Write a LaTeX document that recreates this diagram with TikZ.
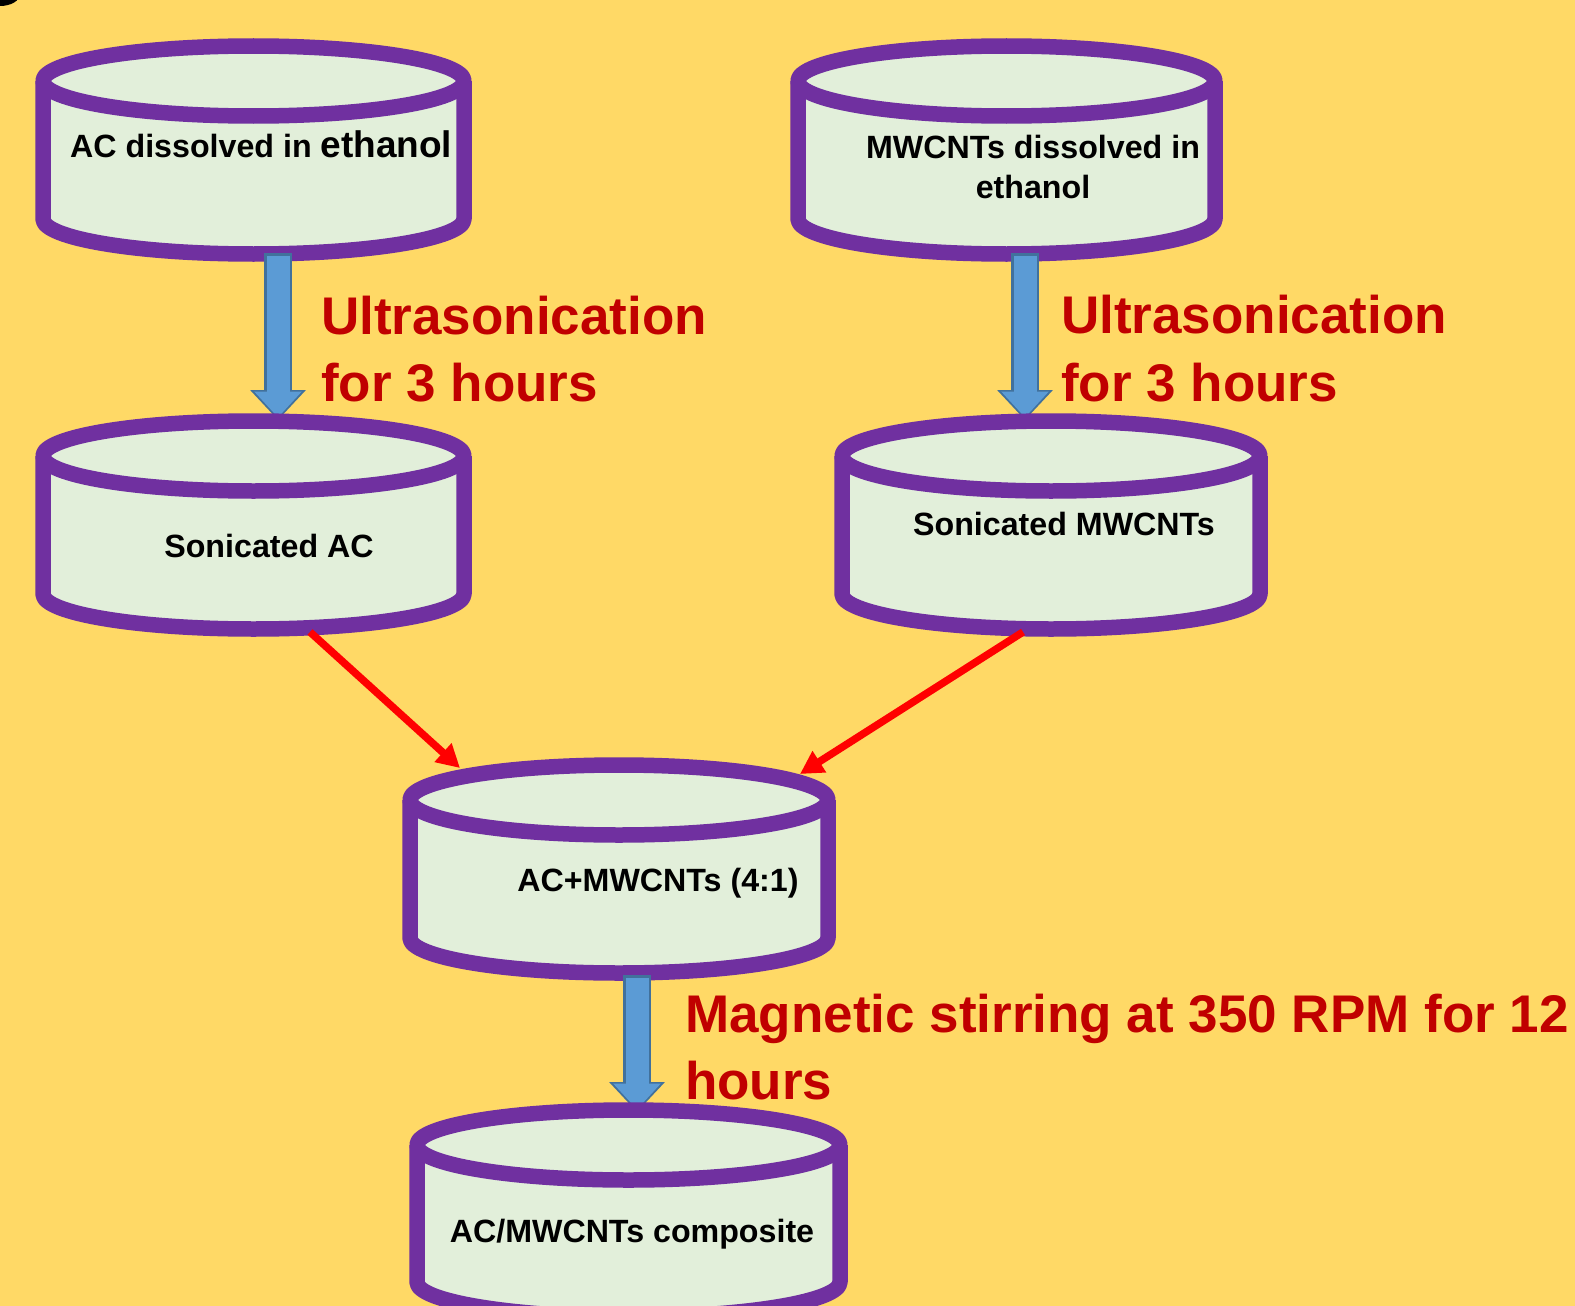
\documentclass[tikz,border=0pt]{standalone}
\usepackage{fontspec}
\setmainfont{Liberation Sans}
\usetikzlibrary{arrows.meta}
\definecolor{bgyellow}{HTML}{FFD966}
\definecolor{cylpurple}{HTML}{7030A0}
\definecolor{cylgreen}{HTML}{E2EFDA}
\definecolor{arrowblue}{HTML}{5B9BD5}
\definecolor{arrowedge}{HTML}{41719C}
\definecolor{labelred}{HTML}{C00000}
\definecolor{linkred}{HTML}{FF0000}
% cylinder: #1 centre x, #2 x radius, #3 top ellipse centre y, #4 bottom ellipse centre y
\newcommand\drawcyl[4]{%
  \fill[cylgreen] (#1-#2,#3) rectangle (#1+#2,#4);
  \fill[cylgreen] (#1,#4) ellipse [x radius=#2pt, y radius=35pt];
  \fill[cylgreen] (#1,#3) ellipse [x radius=#2pt, y radius=35pt];
  \draw[cylborder] (#1-#2,#3) -- (#1-#2,#4)
     arc [start angle=180, end angle=360, x radius=#2pt, y radius=35pt] -- (#1+#2,#3);
  \draw[cylborder] (#1,#3) ellipse [x radius=#2pt, y radius=35pt];
}
\tikzset{
  cylborder/.style={draw=cylpurple, line width=15.5pt, line join=round},
  boxtext/.style={font=\bfseries\fontsize{32.2}{40}\selectfont, text=black, inner sep=0pt, align=center},
  redlabel/.style={font=\bfseries\fontsize{53}{67}\selectfont, text=labelred, inner sep=0pt},
  blueouter/.style={draw=arrowedge, line width=28pt, -{Triangle[length=30pt,width=54pt]}},
  blueinner/.style={draw=arrowblue, line width=23pt, shorten <=2.5pt, shorten >=2.5pt, -{Triangle[length=26pt,width=46pt]}},
  redlink/.style={draw=linkred, line width=7.5pt, -{Triangle[length=23pt,width=24pt]}}
}
\begin{document}
\begin{tikzpicture}[x=1pt,y=-1pt]
\useasboundingbox (0,0) rectangle (1575,1306);
\fill[bgyellow] (0,0) rectangle (1575,1306);
\fill[black] (0,-6) ellipse [x radius=20pt, y radius=12pt];

% top row cylinders
\drawcyl{253.5}{210.5}{81}{219}
\drawcyl{1006.5}{208.5}{81}{219}

% connector coordinates
\coordinate (acEth-out) at (278,253);
\coordinate (sonAC-in) at (278,420);
\coordinate (mwEth-out) at (1025,253);
\coordinate (sonMW-in) at (1025,420);
\coordinate (mix-out) at (637,975);
\coordinate (comp-in) at (637,1112);
\coordinate (sonAC-out) at (310,632);
\coordinate (mix-inL) at (460,768);
\coordinate (sonMW-out) at (1023,632);
\coordinate (mix-inR) at (800,774);

% blue block arrows (top)
\draw[blueouter] (acEth-out) -- (sonAC-in);
\draw[blueinner] (acEth-out) -- (sonAC-in);
\draw[blueouter] (mwEth-out) -- (sonMW-in);
\draw[blueinner] (mwEth-out) -- (sonMW-in);

% middle row cylinders
\drawcyl{253.5}{210.5}{456}{594}
\drawcyl{1051}{209}{456}{594}

% mixture cylinder
\drawcyl{619}{209}{800}{938}

% blue block arrow (bottom)
\draw[blueouter] (mix-out) -- (comp-in);
\draw[blueinner] (mix-out) -- (comp-in);

% composite cylinder
\drawcyl{628.5}{211.5}{1145}{1282}

% red connectors
\draw[redlink] (sonAC-out) -- (mix-inL);
\draw[redlink] (sonMW-out) -- (mix-inR);

% cylinder texts
\node[boxtext, anchor=base west] (acEth) at (70,157)
  {AC dissolved in \fontsize{37}{40}\selectfont ethanol};
\node[boxtext, anchor=base] (mwEth) at (1033,198) {MWCNTs dissolved in\\ethanol};
\node[boxtext, anchor=base] (sonAC) at (269,557) {Sonicated AC};
\node[boxtext, anchor=base] (sonMW) at (1064,535) {Sonicated MWCNTs};
\node[boxtext, anchor=base] (mix) at (658,891) {AC+MWCNTs (4:1)};
\node[boxtext, anchor=base] (comp) at (632,1242) {AC/MWCNTs composite};

% red process labels
\node[redlabel, anchor=base west] (ultraL1) at (321,334) {Ultrasonication};
\node[redlabel, anchor=base west] (ultraL2) at (321,401) {for 3 hours};
\node[redlabel, anchor=base west] (ultraR1) at (1061,333) {Ultrasonication};
\node[redlabel, anchor=base west] (ultraR2) at (1061,401) {for 3 hours};
\node[redlabel, anchor=base west] (stir1) at (685,1032) {Magnetic stirring at 350 RPM for 12};
\node[redlabel, anchor=base west] (stir2) at (685,1099) {hours};
\end{tikzpicture}
\end{document}
